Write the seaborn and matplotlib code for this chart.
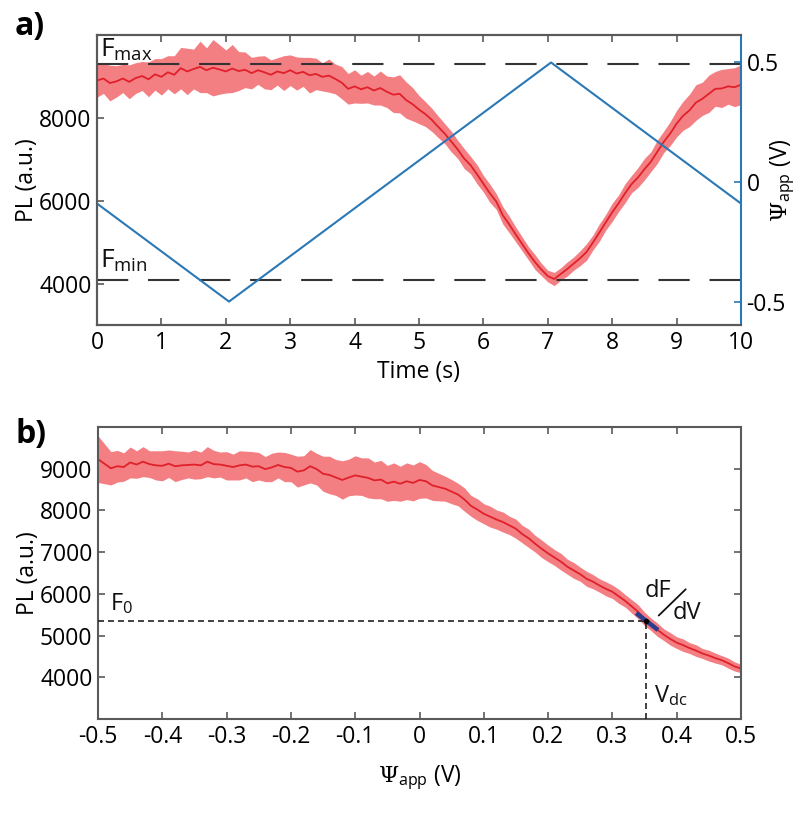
import numpy as np
import pandas as pd
import matplotlib
matplotlib.use("Agg")
import matplotlib.pyplot as plt
import seaborn as sns

# a) PL over time during one voltage sweep (0.1 s steps)
time_s = np.linspace(0, 10, 101)
pl_time = [
    8900, 8950, 8840, 8880, 8950, 8870, 8960, 9010, 8930, 9050,
    8990, 9100, 9040, 9200, 9120, 9180, 9230, 9150, 9210, 9170,
    9120, 9190, 9130, 9160, 9080, 9150, 9100, 9040, 9120, 9080,
    9150, 9070, 9110, 9030, 9060, 8990, 9020, 8940, 8850, 8700,
    8760, 8690, 8740, 8660, 8720, 8630, 8560, 8580, 8430, 8330,
    8200, 8090, 7950, 7780, 7620, 7430, 7240, 7020, 6860, 6640,
    6410, 6180, 5980, 5650, 5430, 5190, 4960, 4730, 4520, 4340,
    4180, 4110, 4230, 4350, 4480, 4610, 4760, 4990, 5230, 5480,
    5720, 5940, 6180, 6400, 6560, 6760, 6940, 7180, 7420, 7620,
    7860, 8050, 8180, 8370, 8460, 8580, 8700, 8710, 8760, 8740,
    8800,
]
pl_time_err = [
    400, 360, 430, 380, 340, 410, 370, 350, 420, 380, 440, 400, 460,
    500, 560, 480, 620, 540, 680, 600, 520, 580, 470, 430,
    380, 340, 400, 360, 330, 420, 370, 400, 350, 430, 380, 340, 400, 360, 390,
    370, 400, 340, 380, 350, 410, 380, 430, 460, 440,
    400, 340, 300, 280, 260, 240, 250, 220, 240, 210, 230, 200, 220, 190, 210, 200, 180,
    170, 160, 180, 150, 140, 160, 150, 170, 160, 180,
    200, 180, 210, 190, 220, 200, 230, 210, 240, 260, 240, 280, 260, 290,
    320, 350, 390, 430, 400, 450, 420, 460, 430, 470, 480,
]

# corners of the applied triangle wave
ramp_time = [0, 2.05, 7.05, 10]
ramp_psi = [-0.09, -0.5, 0.5, -0.09]

f_max = 9300
f_min = 4080

# b) PL against applied potential (0.01 V steps)
psi = np.linspace(-0.5, 0.5, 101)
pl_psi = [
    9230, 9120, 9010, 9060, 9040, 9150, 9100, 9170, 9110, 9080,
    9070, 9120, 9060, 9080, 9090, 9100, 9080, 9170, 9110, 9100,
    9070, 9040, 9080, 9100, 9050, 9060, 8990, 9030, 9090, 9040,
    9020, 8930, 8960, 9060, 8990, 8880, 8850, 8790, 8730, 8790,
    8840, 8810, 8780, 8720, 8740, 8650, 8690, 8640, 8700, 8660,
    8730, 8700, 8600, 8560, 8520, 8450, 8380, 8260, 8110, 8020,
    7920, 7850, 7780, 7720, 7640, 7560, 7430, 7330, 7200, 7080,
    6970, 6870, 6770, 6650, 6560, 6470, 6360, 6290, 6200, 6120,
    6050, 5940, 5830, 5700, 5570, 5400, 5270, 5140, 5020, 4920,
    4830, 4770, 4700, 4640, 4570, 4520, 4460, 4410, 4340, 4260,
    4210,
]
pl_psi_err = [
    560, 480, 400, 380, 340, 370, 330, 360, 320, 350,
    360, 330, 370, 340, 310, 350, 320, 360, 330, 300,
    340, 310, 350, 320, 360, 330, 300, 340, 310, 350,
    330, 370, 350, 400, 380, 420, 450, 430, 460, 440,
    470, 450, 480, 440, 460, 430, 450, 420, 440, 430,
    440, 400, 360, 330, 300, 290, 270, 280, 250, 260,
    240, 250, 230, 240, 220, 230, 210, 220, 200, 210,
    200, 190, 200, 180, 190, 170, 180, 170, 160, 170,
    160, 170, 150, 160, 170, 160, 150, 160, 140, 150,
    140, 150, 130, 140, 120, 130, 120, 110, 120, 110, 100,
]
psi_ticks = [-0.5, -0.4, -0.3, -0.2, -0.1, 0, 0.1, 0.2, 0.3, 0.4, 0.5]
psi_tick_labels = ["-0.5", "-0.4", "-0.3", "-0.2", "-0.1", "0",
                   "0.1", "0.2", "0.3", "0.4", "0.5"]

v_dc = 0.352
f_0 = 5360
slope = -12000  # dF/dV at the working point

df_a = pd.DataFrame({"t": time_s, "pl": pl_time, "err": pl_time_err})
df_b = pd.DataFrame({"psi": psi, "pl": pl_psi, "err": pl_psi_err})
df_ramp = pd.DataFrame({"t": ramp_time, "psi": ramp_psi})

sns.set_theme(style="ticks")
plt.rcParams["font.family"] = ["Open Sans", "DejaVu Sans"]
plt.rcParams["mathtext.fontset"] = "custom"
plt.rcParams["mathtext.rm"] = "DejaVu Serif"
plt.rcParams["mathtext.sf"] = "Open Sans"
plt.rcParams["mathtext.it"] = "DejaVu Serif:italic"
plt.rcParams["axes.unicode_minus"] = False
plt.rcParams["text.color"] = "black"
plt.rcParams["axes.labelcolor"] = "black"
plt.rcParams["xtick.labelcolor"] = "black"
plt.rcParams["ytick.labelcolor"] = "black"

RED = "#e0202a"
BAND = "#f47f83"
BLUE = "#2a78b5"
GREY = "#5a5a5a"
FS = 16.5

fig = plt.figure(figsize=(8.02, 8.25), dpi=100)
ax1 = fig.add_axes([97 / 802, 1 - 325 / 825, 644 / 802, 290 / 825])
ax2 = fig.add_axes([98 / 802, 1 - 719 / 825, 643 / 802, 292 / 825])

# ---- panel a
ax1.fill_between(df_a["t"], df_a["pl"] - df_a["err"], df_a["pl"] + df_a["err"],
                 color=BAND, lw=0, zorder=1)
sns.lineplot(data=df_a, x="t", y="pl", color=RED, lw=1.3, ax=ax1, zorder=2)
ax1.axhline(f_max, color="#333333", lw=1.5, dashes=(15, 9.5), zorder=3)
ax1.axhline(f_min, color="#333333", lw=1.5, dashes=(15, 9.5), zorder=3)
ax1.text(0.04, f_max + 180, r"$\mathsf{F}_{\mathsf{max}}$", fontsize=19, color="#111111")
ax1.text(0.04, f_min + 300, r"$\mathsf{F}_{\mathsf{min}}$", fontsize=19, color="#111111")

ax1.set_xlim(0, 10)
ax1.set_ylim(3000, 10000)
ax1.set_xticks(range(11))
ax1.set_yticks([4000, 6000, 8000])
ax1.set_xlabel("Time (s)", fontsize=FS, labelpad=4)
ax1.set_ylabel("PL (a.u.)", fontsize=FS)
ax1.yaxis.set_label_coords(-0.09, 0.5)
ax1.tick_params(direction="in", top=True, right=False, length=5, width=1.2,
                color=GREY, labelsize=FS, pad=4)

ax1r = ax1.twinx()
sns.lineplot(data=df_ramp, x="t", y="psi", color=BLUE, lw=1.5, ax=ax1r)
ax1r.set_ylim(-0.598, 0.615)
ax1r.set_yticks([-0.5, 0, 0.5], ["-0.5", "0", "0.5"])
ax1r.set_ylabel(r"$\Psi_{\mathsf{app}}$ (V)", fontsize=FS)
ax1r.yaxis.set_label_coords(1.043, 0.5)
ax1r.tick_params(direction="in", length=5, width=1.2, color=BLUE,
                 labelcolor="black", labelsize=FS, pad=4)

for ax in (ax1, ax1r):
    for s in ax.spines.values():
        s.set_color(GREY)
        s.set_linewidth(1.5)
ax1.spines["right"].set_visible(False)
ax1r.spines["right"].set_color(BLUE)

# ---- panel b
ax2.fill_between(df_b["psi"], df_b["pl"] - df_b["err"], df_b["pl"] + df_b["err"],
                 color=BAND, lw=0, zorder=1)
sns.lineplot(data=df_b, x="psi", y="pl", color=RED, lw=1.3, ax=ax2, zorder=2)

ax2.plot([-0.5, v_dc], [f_0, f_0], color="#222222", lw=1.2, dashes=(3.6, 2.4), zorder=3)
ax2.plot([v_dc, v_dc], [3000, f_0], color="#222222", lw=1.2, dashes=(3.6, 2.4), zorder=3)
tan_x = np.array([v_dc - 0.015, v_dc + 0.019])
ax2.plot(tan_x, f_0 + slope * (tan_x - v_dc), color="#2b3d8f", lw=3.2,
         solid_capstyle="butt", zorder=4)
ax2.plot([v_dc], [f_0], marker="o", ms=3, color="black", zorder=5)

ax2.text(-0.482, 5600, r"$\mathsf{F}_{\mathsf{0}}$", fontsize=17, color="#111111")
ax2.text(v_dc + 0.012, 3400, r"$\mathsf{V}_{\mathsf{dc}}$", fontsize=17, color="#111111")
ax2.text(0.350, 5930, "dF", fontsize=17, color="#111111")
ax2.plot([0.372, 0.414], [5480, 6110], color="#111111", lw=1.3)
ax2.text(0.393, 5400, "dV", fontsize=17, color="#111111")

ax2.set_xlim(-0.5, 0.5)
ax2.set_ylim(3000, 10000)
ax2.set_xticks(psi_ticks, psi_tick_labels)
ax2.set_yticks([4000, 5000, 6000, 7000, 8000, 9000])
ax2.set_xlabel(r"$\Psi_{\mathsf{app}}$ (V)", fontsize=FS, labelpad=11)
ax2.set_ylabel("PL (a.u.)", fontsize=FS)
ax2.yaxis.set_label_coords(-0.09, 0.5)
ax2.tick_params(direction="in", top=True, right=True, length=5, width=1.2,
                color=GREY, labelsize=FS, pad=4)
for s in ax2.spines.values():
    s.set_color(GREY)
    s.set_linewidth(1.5)

fig.text(15 / 802, 1 - 35 / 825, "a)", fontsize=23, fontweight="bold", va="baseline")
fig.text(15 / 802, 1 - 443 / 825, "b)", fontsize=23, fontweight="bold", va="baseline")

fig.savefig("out.png", dpi=100)
